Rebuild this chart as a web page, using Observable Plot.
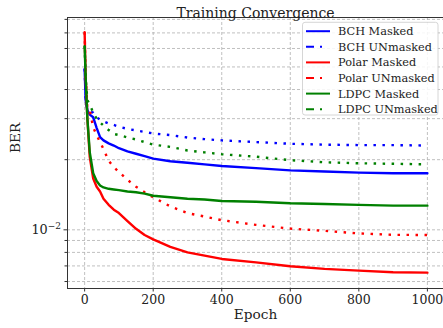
<!DOCTYPE html>
<html><head><meta charset="utf-8">
<script src="https://cdn.jsdelivr.net/npm/d3@7"></script>
<script src="https://cdn.jsdelivr.net/npm/@observablehq/plot@0.6"></script>
<style>
body{margin:0;background:#fff;}
#chart{position:relative;width:443px;height:328px;}
</style></head><body><div id="chart"></div>
<script>
const epochs = [0, 3, 8, 15, 25, 35, 45, 55, 70, 85, 100, 125, 150, 175, 200, 250, 300, 350, 400, 500, 600, 700, 800, 900, 1000];

const seriesNames = ["BCH Masked", "BCH UNmasked", "Polar Masked", "Polar UNmasked", "LDPC Masked", "LDPC UNmasked"];
const seriesColors = ["#0000ff", "#0000ff", "#ff0000", "#ff0000", "#008000", "#008000"];
const seriesDashed = [false, true, false, true, false, true];

const bchMasked     = [0.049, 0.036, 0.0327, 0.0312, 0.0304, 0.0274, 0.0250, 0.0242, 0.0235, 0.0230, 0.0224, 0.0217, 0.0212, 0.0207, 0.0202, 0.0197, 0.0194, 0.0191, 0.0188, 0.0184, 0.0180, 0.0178, 0.0176, 0.0175, 0.0175];
const bchUnmasked   = [0.049, 0.036, 0.0330, 0.0322, 0.0318, 0.0304, 0.0297, 0.0292, 0.0286, 0.0282, 0.0277, 0.0271, 0.0267, 0.0263, 0.0259, 0.0255, 0.0249, 0.0245, 0.0242, 0.0238, 0.0234, 0.0232, 0.0231, 0.0231, 0.0230];
const polarMasked   = [0.0705, 0.045, 0.0300, 0.0205, 0.0166, 0.0153, 0.0146, 0.0136, 0.0128, 0.0122, 0.0118, 0.0109, 0.0101, 0.0095, 0.0091, 0.00845, 0.0080, 0.00775, 0.0075, 0.00725, 0.00698, 0.0068, 0.00668, 0.00658, 0.00655];
const polarUnmasked = [0.0705, 0.045, 0.0330, 0.0325, 0.0275, 0.0255, 0.0238, 0.0222, 0.0198, 0.0186, 0.0177, 0.0164, 0.0153, 0.0145, 0.0138, 0.0126, 0.0118, 0.0114, 0.0110, 0.0105, 0.01012, 0.0099, 0.00965, 0.00952, 0.0095];
const ldpcMasked    = [0.0613, 0.045, 0.0300, 0.0215, 0.0175, 0.0162, 0.0155, 0.0152, 0.0150, 0.0149, 0.0148, 0.0146, 0.0145, 0.0143, 0.0140, 0.0138, 0.0136, 0.0135, 0.0133, 0.0132, 0.0130, 0.0129, 0.0128, 0.0127, 0.0127];
const ldpcUnmasked  = [0.0613, 0.045, 0.0360, 0.0345, 0.0318, 0.0300, 0.0289, 0.0280, 0.0268, 0.0258, 0.0255, 0.0249, 0.0244, 0.0238, 0.0232, 0.0227, 0.0219, 0.0215, 0.0211, 0.0206, 0.0199, 0.0195, 0.0193, 0.0192, 0.0191];
const seriesValues = [bchMasked, bchUnmasked, polarMasked, polarUnmasked, ldpcMasked, ldpcUnmasked];

const xTicks = [0, 200, 400, 600, 800, 1000];
const yMajorTicks = [0.01];
const yMajorBase = "10";
const yMajorExp = ["−2"];
const yMinorTicks = [0.006, 0.007, 0.008, 0.009, 0.02, 0.03, 0.04, 0.05, 0.06, 0.07, 0.08];

const titleText = "Training Convergence";
const xLabel = "Epoch";
const yLabel = "BER";

const font = "'DejaVu Serif', 'Liberation Serif', serif";
const gridStyle = {stroke: "#b0b0b0", strokeOpacity: 1, strokeWidth: 0.8, strokeDasharray: "3,2"};

const lineMarks = seriesNames.map((name, i) => {
  const data = epochs.map((e, j) => ({epoch: e, ber: seriesValues[i][j]}));
  return Plot.line(data, {
    x: "epoch", y: "ber",
    stroke: seriesColors[i],
    strokeWidth: 2.4,
    strokeDasharray: seriesDashed[i] ? "2.5,6.5" : null,
    strokeLinecap: seriesDashed[i] ? "butt" : "round",
    clip: true
  });
});

const plot = Plot.plot({
  width: 443, height: 328,
  marginTop: 17, marginBottom: 40, marginLeft: 67, marginRight: 0,
  style: {fontFamily: font, fontSize: "12.5px", background: "white", color: "#222", overflow: "visible"},
  x: {domain: [-50, 1047]},
  y: {type: "log", domain: [0.0056, 0.0815]},
  marks: [
    Plot.gridX(xTicks, gridStyle),
    Plot.gridY([...yMajorTicks, ...yMinorTicks], gridStyle),
    Plot.axisX(xTicks, {tickSize: 3.5, tickPadding: 3, label: null, stroke: "#333", tickFormat: d => String(d)}),
    Plot.axisY(yMinorTicks, {tickSize: 2.5, label: null, stroke: "#333", tickFormat: () => ""}),
    Plot.axisY(yMajorTicks, {tickSize: 3.5, tickPadding: 3, label: null, stroke: "#333", fontSize: 12.8,
      tickFormat: d => "EXP" + yMajorTicks.indexOf(d)}),
    ...lineMarks,
    Plot.frame({stroke: "#333", strokeWidth: 1}),
    Plot.text([titleText], {frameAnchor: "top", dy: -9, fontSize: 14, fill: "#222"}),
    Plot.text([xLabel], {frameAnchor: "bottom", dy: 30, fontSize: 13.7, fill: "#222"}),
    Plot.text([yLabel], {frameAnchor: "left", dx: -52, rotate: -90, fontSize: 13.7, fill: "#222"})
  ]
});

document.getElementById("chart").appendChild(plot);

const svg = d3.select(plot);

// Render the log tick label as 10 with a raised exponent
svg.selectAll("text").each(function() {
  const t = this.textContent;
  if (t && t.startsWith("EXP")) {
    const idx = +t.slice(3);
    const sel = d3.select(this);
    sel.text(null);
    sel.append("tspan").text(yMajorBase);
    sel.append("tspan").attr("dy", "-0.5em").attr("font-size", "9px").text(yMajorExp[idx]);
  }
});

// Legend
const lg = svg.append("g").attr("font-family", font).attr("font-size", 11.3).attr("text-anchor", "start");
lg.append("rect").attr("x", 302.5).attr("y", 22.3).attr("width", 135.5).attr("height", 92.7)
  .attr("rx", 2.5).attr("fill", "white").attr("fill-opacity", 0.85).attr("stroke", "#cccccc").attr("stroke-width", 0.8);
seriesNames.forEach((name, i) => {
  const y = 31.2 + i * 15.6;
  lg.append("line").attr("x1", 306).attr("x2", 330).attr("y1", y).attr("y2", y)
    .attr("stroke", seriesColors[i]).attr("stroke-width", 2)
    .attr("stroke-dasharray", seriesDashed[i] ? "8,6,2,8" : null);
  lg.append("text").attr("x", 338).attr("y", y).attr("dy", "0.35em").attr("fill", "#222").text(name);
});
</script></body></html>
